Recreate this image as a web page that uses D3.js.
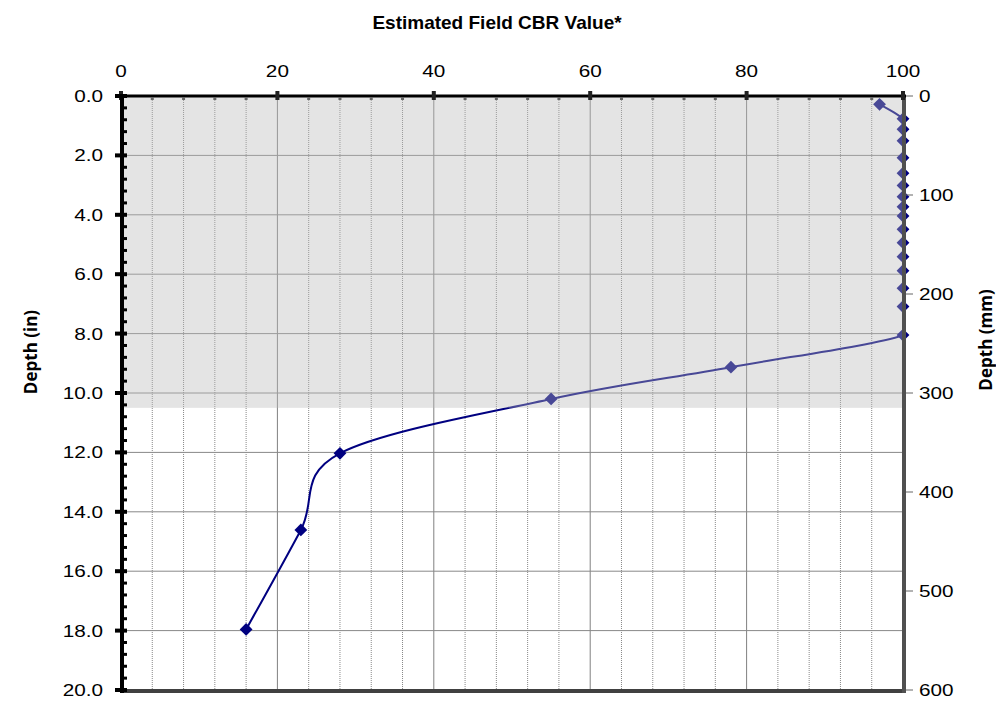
<!DOCTYPE html>
<html>
<head>
<meta charset="utf-8">
<script src="https://cdn.jsdelivr.net/npm/d3@7"></script>
<style>
  html, body { margin: 0; padding: 0; background: #fff; }
  svg { display: block; }
</style>
</head>
<body>
<svg id="chart" width="996" height="702"></svg>
<script>
// Field CBR estimated from penetration readings, plotted against depth
const cbrValues = [97, 100, 100, 100, 100, 100, 100, 100, 100, 100, 100, 100, 100, 100, 100, 100, 100, 78, 55, 28, 23, 16];
const depthInches = [0.28, 0.77, 1.12, 1.51, 2.08, 2.60, 3.01, 3.39, 3.73, 4.04, 4.49, 4.94, 5.41, 5.88, 6.47, 7.09, 8.05, 9.13, 10.2, 12.03, 14.61, 17.96];

const cbrTicks = [0, 20, 40, 60, 80, 100];
const depthInTicks = [0, 2, 4, 6, 8, 10, 12, 14, 16, 18, 20];
const depthMmTicks = [0, 100, 200, 300, 400, 500, 600];
const shadedDepthIn = [0, 10.5];

const titleText = "Estimated Field CBR Value*";
const leftTitle = "Depth (in)";
const rightTitle = "Depth (mm)";

const svg = d3.select("#chart");
const plotL = 121, plotR = 903, plotT = 96, plotB = 690;

const x = d3.scaleLinear().domain([0, 100]).range([plotL, plotR]);
const y = d3.scaleLinear().domain([0, 20]).range([plotT, plotB]);
const yMm = d3.scaleLinear().domain([0, 600]).range([plotT, plotB]);

const labelFont = "'Liberation Sans', Arial, sans-serif";
const labelSize = 17;
const labelStretch = 1.22;

svg.append("defs").append("clipPath").attr("id", "plot-clip")
  .append("rect")
  .attr("x", plotL).attr("y", plotT)
  .attr("width", plotR - plotL).attr("height", plotB - plotT);

// Minor vertical gridlines every 4 CBR units (dotted), major every 20 (solid)
const minorX = d3.range(4, 100, 4).filter(v => v % 20 !== 0);
svg.append("g").selectAll("line").data(minorX).join("line")
  .attr("x1", d => x(d)).attr("x2", d => x(d))
  .attr("y1", plotT).attr("y2", plotB)
  .attr("stroke", "#888").attr("stroke-width", 1)
  .attr("stroke-dasharray", "1,1");
svg.append("g").selectAll("line").data(cbrTicks.filter(v => v > 0 && v < 100)).join("line")
  .attr("x1", d => x(d)).attr("x2", d => x(d))
  .attr("y1", plotT).attr("y2", plotB)
  .attr("stroke", "#808080").attr("stroke-width", 1);

// Horizontal gridlines every 2 in
svg.append("g").selectAll("line").data(depthInTicks.filter(v => v > 0 && v < 20)).join("line")
  .attr("x1", plotL).attr("x2", plotR)
  .attr("y1", d => y(d)).attr("y2", d => y(d))
  .attr("stroke", "#888").attr("stroke-width", 1);

// CBR profile, smoothed and clipped to the plot area
const pts = cbrValues.map((v, i) => [v, depthInches[i]]);
const line = d3.line()
  .x(d => x(d[0])).y(d => y(d[1]))
  .curve(d3.curveCardinal.tension(0));
svg.append("path").datum(pts)
  .attr("clip-path", "url(#plot-clip)")
  .attr("d", line)
  .attr("fill", "none")
  .attr("stroke", "#000080")
  .attr("stroke-width", 2);

const diamond = d3.symbol().type(d3.symbolSquare).size(82);
svg.append("g").selectAll("path").data(pts).join("path")
  .attr("d", diamond)
  .attr("transform", d => `translate(${x(d[0])},${y(d[1])}) rotate(45)`)
  .attr("fill", "#000080");

// Translucent band over the upper layer
svg.append("rect")
  .attr("x", plotL).attr("width", plotR - plotL)
  .attr("y", y(shadedDepthIn[0])).attr("height", y(shadedDepthIn[1]) - y(shadedDepthIn[0]))
  .attr("fill", "rgb(185,185,185)").attr("fill-opacity", 0.39);

// Bottom axis line
svg.append("line")
  .attr("x1", plotL).attr("x2", plotR + 2)
  .attr("y1", plotB + 1).attr("y2", plotB + 1)
  .attr("stroke", "#404040").attr("stroke-width", 4);

// Tick label helper: horizontally widened text anchored at (px, py)
function tickLabel(g, data, px, py, anchor, fmt) {
  g.selectAll("text").data(data).join("text")
    .attr("transform", d => `translate(${px(d)},${py(d)}) scale(${labelStretch},1)`)
    .attr("text-anchor", anchor)
    .attr("font-family", labelFont).attr("font-size", labelSize)
    .attr("fill", "#000")
    .text(fmt);
}

// Right axis (mm)
svg.append("line")
  .attr("x1", plotR + 1).attr("x2", plotR + 1)
  .attr("y1", plotT).attr("y2", plotB + 3)
  .attr("stroke", "#505050").attr("stroke-width", 4);
const rAxis = svg.append("g");
rAxis.selectAll("line").data(depthMmTicks).join("line")
  .attr("x1", plotR + 3).attr("x2", plotR + 10)
  .attr("y1", d => yMm(d)).attr("y2", d => yMm(d))
  .attr("stroke", "#666").attr("stroke-width", 1);
tickLabel(rAxis.append("g"), depthMmTicks, () => plotR + 16, d => yMm(d) + 6, "start", d => d);

// Top axis (CBR)
svg.append("line")
  .attr("x1", plotL - 2).attr("x2", plotR + 3)
  .attr("y1", plotT).attr("y2", plotT)
  .attr("stroke", "#000").attr("stroke-width", 3);
const tAxis = svg.append("g");
tAxis.selectAll("rect.minor").data(minorX).join("rect").attr("class", "minor")
  .attr("x", d => x(d) - 1.5).attr("y", plotT + 1).attr("width", 3).attr("height", 3)
  .attr("fill", "#666");
tAxis.selectAll("rect.major").data(cbrTicks).join("rect").attr("class", "major")
  .attr("x", d => x(d) - 2).attr("y", plotT - 5).attr("width", 4).attr("height", 9)
  .attr("fill", "#222");
tickLabel(tAxis.append("g"), cbrTicks, d => x(d), () => plotT - 19, "middle", d => d);

// Left axis (in)
svg.append("line")
  .attr("x1", plotL + 1).attr("x2", plotL + 1)
  .attr("y1", plotT - 2).attr("y2", plotB + 3)
  .attr("stroke", "#000").attr("stroke-width", 4);
const minorY = d3.range(0.4, 20, 0.4).filter(v => Math.abs(v / 2 - Math.round(v / 2)) > 0.01);
const lAxis = svg.append("g");
lAxis.selectAll("rect.minor").data(minorY).join("rect").attr("class", "minor")
  .attr("x", plotL + 3).attr("y", d => y(d) - 1.5).attr("width", 3).attr("height", 3)
  .attr("fill", "#000");
lAxis.selectAll("rect.major").data(depthInTicks).join("rect").attr("class", "major")
  .attr("x", plotL - 6).attr("y", d => y(d) - 2).attr("width", 12).attr("height", 4)
  .attr("fill", "#000");
tickLabel(lAxis.append("g"), depthInTicks, () => plotL - 18, d => y(d) + 6, "end", d => d.toFixed(1));

// Titles
svg.append("text")
  .attr("x", 497).attr("y", 29)
  .attr("text-anchor", "middle")
  .attr("font-family", labelFont).attr("font-weight", "bold").attr("font-size", 19)
  .text(titleText);
svg.append("text")
  .attr("transform", "translate(37,352) rotate(-90)")
  .attr("text-anchor", "middle")
  .attr("font-family", "'Open Sans', sans-serif").attr("font-weight", "bold").attr("font-size", 17)
  .text(leftTitle);
svg.append("text")
  .attr("transform", "translate(992,340) rotate(-90)")
  .attr("text-anchor", "middle")
  .attr("font-family", "'Open Sans', sans-serif").attr("font-weight", "bold").attr("font-size", 17)
  .text(rightTitle);
</script>
</body>
</html>
